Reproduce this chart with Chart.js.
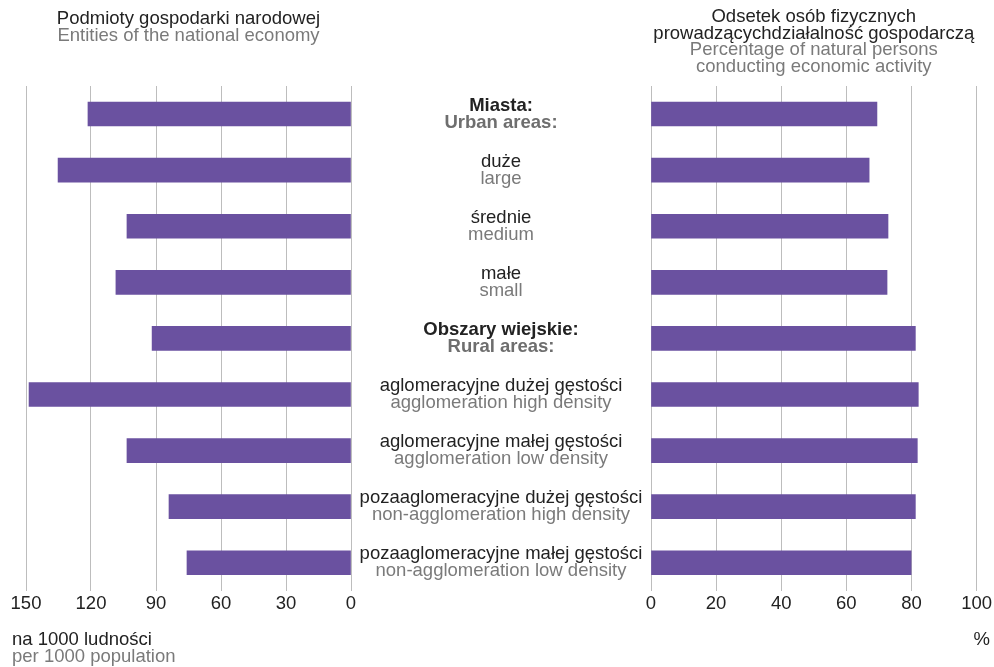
<!DOCTYPE html>
<html>
<head>
<meta charset="utf-8">
<script src="https://cdn.jsdelivr.net/npm/chart.js@4.4.1/dist/chart.umd.min.js"></script>
<style>
  body { margin: 0; background: #fff; }
  #wrap { position: relative; width: 994px; height: 667px; }
  canvas { position: absolute; left: 0; top: 0; }
</style>
</head>
<body>
<div id="wrap">
  <canvas id="leftChart" width="994" height="667"></canvas>
  <canvas id="rightChart" width="994" height="667"></canvas>
</div>
<script>
// row labels, polish + english
var labelsPl = ["Miasta:", "duże", "średnie", "małe", "Obszary wiejskie:",
  "aglomeracyjne dużej gęstości", "aglomeracyjne małej gęstości",
  "pozaaglomeracyjne dużej gęstości", "pozaaglomeracyjne małej gęstości"];
var labelsEn = ["Urban areas:", "large", "medium", "small", "Rural areas:",
  "agglomeration high density", "agglomeration low density",
  "non-agglomeration high density", "non-agglomeration low density"];
var boldRows = [0, 4];

// entities of the national economy per 1000 population
var entities = [121.4, 135.2, 103.4, 108.5, 91.8, 148.6, 103.4, 84.0, 75.7];
// % of natural persons conducting economic activity
var persons = [69.4, 67.0, 72.8, 72.5, 81.2, 82.1, 81.8, 81.2, 79.9];

var barColor = "#6a51a0";
var darkText = "#222222";
var greyText = "#7a7a7a";
var gridColor = "#bdbdbd";
var fontFam = "'Liberation Sans', Arial, sans-serif";
var fontPx = 18.5;

Chart.defaults.font.family = fontFam;
Chart.defaults.font.size = fontPx;
Chart.defaults.color = darkText;

function line(ctx, txt, x, y, color, align, bold) {
	ctx.font = (bold ? "bold " : "") + fontPx + "px " + fontFam;
	ctx.fillStyle = color;
	ctx.textAlign = align;
	ctx.textBaseline = "middle";
	ctx.fillText(txt, x, y);
}

// titles, row labels and unit captions
var textPlugin = {
	id: "textBits",
	afterDraw: function (chart, args, opts) {
		var ctx = chart.ctx;
		var area = chart.chartArea;
		var mid = (area.left + area.right) / 2;
		ctx.save();
		opts.title.forEach(function (t, i) {
			line(ctx, t, mid, opts.titleY + i * 16.7, darkText, "center");
		});
		opts.subtitle.forEach(function (t, i) {
			line(ctx, t, mid, opts.titleY + (opts.title.length + i) * 16.7, greyText, "center");
		});
		opts.unit.forEach(function (t, i) {
			line(ctx, t, opts.unitX, 640 + i * 17, i == 0 ? darkText : greyText, opts.unitAlign);
		});
		if (opts.rowLabels) {
			var y = chart.scales.y;
			var cx = area.right + 150;
			labelsPl.forEach(function (pl, i) {
				var py = y.getPixelForValue(i);
				var b = boldRows.indexOf(i) >= 0;
				line(ctx, pl, cx, py - 8.5, darkText, "center", b);
				line(ctx, labelsEn[i], cx, py + 8.5, b ? "#6e6e6e" : greyText, "center", b);
			});
		}
		ctx.restore();
	}
};

function makeChart(id, values, xOpts, padding, textOpts) {
	return new Chart(document.getElementById(id), {
		type: "bar",
		data: {
			labels: labelsPl,
			datasets: [{ data: values, backgroundColor: barColor, barThickness: 24 }]
		},
		options: {
			indexAxis: "y",
			responsive: false,
			animation: false,
			devicePixelRatio: 1,
			layout: { padding: padding },
			plugins: { legend: { display: false }, tooltip: { enabled: false }, textBits: textOpts },
			scales: {
				x: Object.assign({
					grid: { color: gridColor, drawTicks: false },
					border: { display: false }
				}, xOpts),
				y: { display: false }
			}
		},
		plugins: [textPlugin]
	});
}

makeChart("leftChart", entities,
	{ min: 0, max: 150, reverse: true, ticks: { stepSize: 30, color: darkText, padding: 2 } },
	{ left: 26, right: 643, top: 86, bottom: 50 },
	{
		title: ["Podmioty gospodarki narodowej"],
		subtitle: ["Entities of the national economy"],
		titleY: 19,
		unit: ["na 1000 ludności", "per 1000 population"],
		unitX: 12, unitAlign: "left",
		rowLabels: true
	});

makeChart("rightChart", persons,
	{ min: 0, max: 100, ticks: { stepSize: 20, color: darkText, padding: 2 } },
	{ left: 651, right: 9, top: 86, bottom: 50 },
	{
		title: ["Odsetek osób fizycznych", "prowadzącychdziałalność gospodarczą"],
		subtitle: ["Percentage of natural persons", "conducting economic activity"],
		titleY: 17,
		unit: ["%"],
		unitX: 990, unitAlign: "right",
		rowLabels: false
	});
</script>
</body>
</html>
